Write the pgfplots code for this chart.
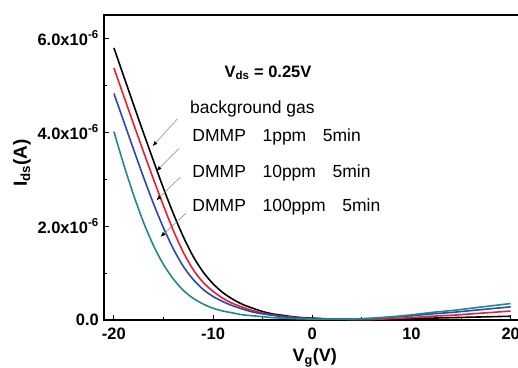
\documentclass[border=0pt]{standalone}
\usepackage{pgfplots}
\pgfplotsset{compat=1.18}
\usetikzlibrary{arrows.meta}
\usepackage{fontspec}
\setmainfont{Liberation Sans}
\definecolor{cred}{RGB}{240,30,40}
\definecolor{cblue}{RGB}{40,70,190}
\definecolor{cteal}{RGB}{30,140,130}
\begin{document}
\begin{tikzpicture}
\useasboundingbox (-104bp,-48bp) rectangle (414bp,320bp);
\begin{axis}[
  scale only axis,
  width=416.6bp, height=305bp,
  xmin=-21, xmax=21, ymin=0, ymax=6.49,
  axis line style={line width=1.5bp},
  tick pos=left,
  xtick={-20,-10,0,10,20},
  xticklabels={-20,-10,0,10,20},
  ytick={0,2,4,6},
  yticklabels={0.0, 2.0x10\textsuperscript{-6}, 4.0x10\textsuperscript{-6}, 6.0x10\textsuperscript{-6}},
  minor x tick num=1, minor y tick num=1,
  major tick length=5bp, minor tick length=3bp,
  every tick/.style={line width=1bp, black},
  xticklabel style={font=\bfseries\fontsize{16.5bp}{17bp}\selectfont, inner sep=0pt, yshift=-8bp},
  yticklabel style={font=\bfseries\fontsize{16.5bp}{17bp}\selectfont, inner sep=0pt, xshift=-5bp},
  every axis x label/.style={at={(rel axis cs:0.506,0)}, yshift=-38bp, anchor=center, font=\bfseries\fontsize{18bp}{18bp}\selectfont},
  every axis y label/.style={at={(rel axis cs:0,0.515)}, xshift=-82bp, rotate=90, anchor=center, font=\bfseries\fontsize{19bp}{19bp}\selectfont},
  xlabel={V\textsubscript{g}(V)},
  ylabel={I\textsubscript{ds}(A)},
  clip=false,
]
\addplot[black, line width=1.6bp, smooth] table {
-20 5.79
-19 5.18
-18 4.57
-17 3.97
-16 3.38
-15 2.80
-14 2.26
-13 1.77
-12 1.35
-11 1.02
-10 0.77
-9 0.58
-8 0.44
-7 0.33
-6 0.25
-5 0.18
-4 0.13
-3 0.10
-2 0.07
-1 0.05
0 0.04
1 0.03
2 0.02
3 0.02
4 0.01
5 0.01
6 0.01
8 0.02
10 0.03
12 0.04
14 0.05
16 0.06
18 0.07
20 0.08
};
\addplot[cred, line width=1.6bp, smooth] table {
-20 5.36
-19 4.76
-18 4.16
-17 3.57
-16 2.99
-15 2.43
-14 1.90
-13 1.44
-12 1.07
-11 0.80
-10 0.61
-9 0.46
-8 0.35
-7 0.27
-6 0.20
-5 0.15
-4 0.11
-3 0.08
-2 0.06
-1 0.04
0 0.03
2 0.02
4 0.01
6 0.01
8 0.03
10 0.05
12 0.08
14 0.10
16 0.13
18 0.16
20 0.19
};
\addplot[cblue, line width=1.6bp, smooth] table {
-20 4.82
-19 4.22
-18 3.62
-17 3.03
-16 2.47
-15 1.96
-14 1.51
-13 1.14
-12 0.86
-11 0.65
-10 0.50
-9 0.39
-8 0.30
-7 0.23
-6 0.17
-5 0.13
-4 0.10
-3 0.07
-2 0.05
-1 0.04
0 0.03
2 0.02
4 0.02
6 0.03
8 0.06
10 0.09
12 0.13
14 0.16
16 0.20
18 0.24
20 0.28
};
\addplot[cteal, line width=1.6bp, smooth] table {
-20 4.01
-19 3.30
-18 2.65
-17 2.07
-16 1.58
-15 1.18
-14 0.87
-13 0.63
-12 0.46
-11 0.34
-10 0.25
-9 0.19
-8 0.15
-7 0.11
-6 0.09
-5 0.07
-4 0.05
-3 0.04
-2 0.03
0 0.02
2 0.02
4 0.02
6 0.04
8 0.07
10 0.11
12 0.16
14 0.20
16 0.25
18 0.30
20 0.35
};
\draw[gray, line width=0.5bp, -{Latex[black,length=5bp,width=4bp]}] (axis cs:-13.6,4.28) -- (axis cs:-16.1,3.70);
\draw[gray, line width=0.5bp, -{Latex[black,length=5bp,width=4bp]}] (axis cs:-13.4,3.66) -- (axis cs:-15.7,3.17);
\draw[gray, line width=0.5bp, -{Latex[black,length=5bp,width=4bp]}] (axis cs:-13.3,3.04) -- (axis cs:-15.7,2.55);
\draw[gray, line width=0.5bp, -{Latex[black,length=5bp,width=4bp]}] (axis cs:-12.7,2.28) -- (axis cs:-15.3,1.77);
\node[anchor=west, inner sep=0pt, font=\bfseries\fontsize{16.5bp}{17bp}\selectfont] at (axis cs:-8.87,5.26) {V\textsubscript{ds} = 0.25V};
\node[anchor=west, inner sep=0pt, font=\fontsize{17.5bp}{18bp}\selectfont] at (axis cs:-12.33,4.48) {background gas};
\node[anchor=west, inner sep=0pt, font=\fontsize{17.5bp}{18bp}\selectfont] at (axis cs:-12.1,3.90) {DMMP\hspace{0.95em}1ppm\hspace{0.95em}5min};
\node[anchor=west, inner sep=0pt, font=\fontsize{17.5bp}{18bp}\selectfont] at (axis cs:-12.1,3.12) {DMMP\hspace{0.95em}10ppm\hspace{0.95em}5min};
\node[anchor=west, inner sep=0pt, font=\fontsize{17.5bp}{18bp}\selectfont] at (axis cs:-12.1,2.41) {DMMP\hspace{0.95em}100ppm\hspace{0.95em}5min};
\end{axis}
\end{tikzpicture}
\end{document}
